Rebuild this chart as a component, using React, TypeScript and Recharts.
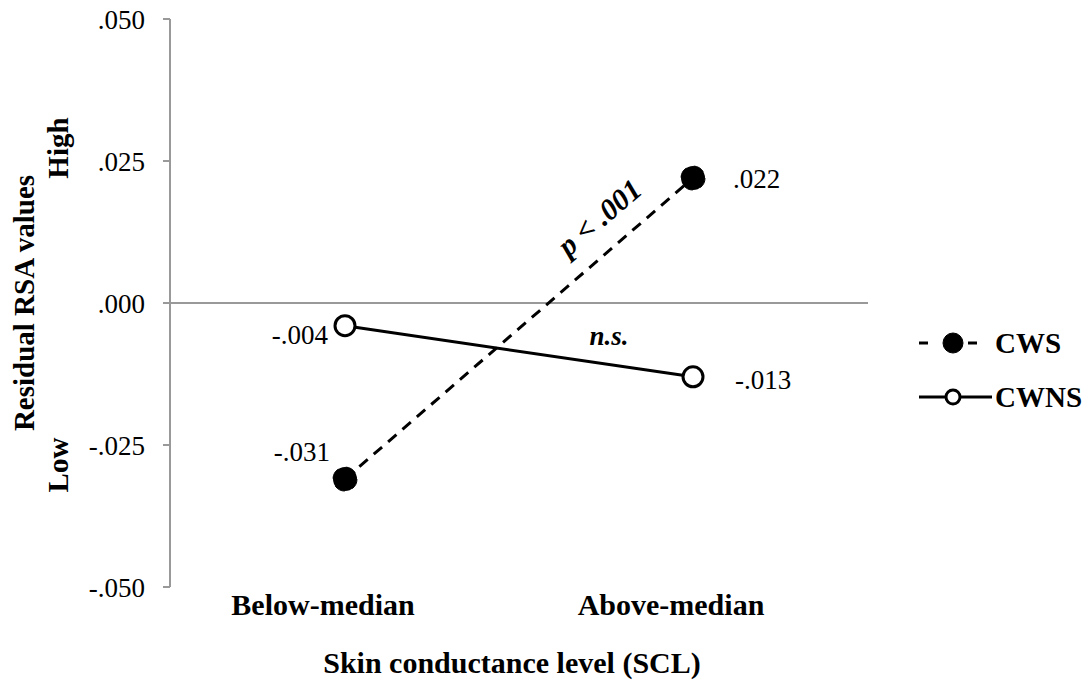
import { LineChart, Line, XAxis, YAxis, ReferenceLine, LabelList } from "recharts";

const categories = ["Below-median", "Above-median"];
const cws = [-0.031, 0.022];
const cwns = [-0.004, -0.013];
const yTicks = [0.05, 0.025, 0, -0.025, -0.05];
const yTickLabels = [".050", ".025", ".000", "-.025", "-.050"];
const seriesNames = ["CWS", "CWNS"];

const data = categories.map((c, i) => ({ name: c, cws: cws[i], cwns: cwns[i] }));

const FONT = "'Liberation Serif', 'Times New Roman', serif";

const fmt = (v: number) => {
  const i = yTicks.findIndex((t) => Math.abs(t - v) < 1e-9);
  return i >= 0 ? yTickLabels[i] : String(v);
};

const valueText = (v: number) => (v < 0 ? "-" : "") + Math.abs(v).toFixed(3).replace(/^0/, "");

function XTick(props: any) {
  const { x, y, payload } = props;
  return (
    <text x={x - 22} y={y + 20} textAnchor="middle" fontFamily={FONT} fontSize={30} fontWeight="bold" fill="#000">
      {payload.value}
    </text>
  );
}

function YTitle(props: any) {
  const { viewBox } = props;
  const top = viewBox.y;
  return (
    <g fontFamily={FONT} fontWeight="bold" fontSize={29} fill="#000">
      <text transform={`translate(34, ${top + 284}) rotate(-90)`} textAnchor="middle">
        Residual RSA values
      </text>
      <text transform={`translate(68, ${top + 129}) rotate(-90)`} textAnchor="middle">
        High
      </text>
      <text transform={`translate(68, ${top + 446}) rotate(-90)`} textAnchor="middle">
        Low
      </text>
    </g>
  );
}

function CwsLabel(props: any) {
  const { x, y, index, value } = props;
  if (index === 0) {
    return (
      <text x={x - 15} y={y - 18} textAnchor="end" fontFamily={FONT} fontSize={27} fill="#000">
        {valueText(value)}
      </text>
    );
  }
  return (
    <g>
      <text x={x + 40} y={y + 10} fontFamily={FONT} fontSize={27} fill="#000">
        {valueText(value)}
      </text>
      <text
        transform={`translate(${x - 87}, ${y + 47}) rotate(-40.6)`}
        textAnchor="middle"
        fontFamily={FONT}
        fontSize={30}
        fontWeight="bold"
        fontStyle="italic"
        fill="#000"
      >
        p &lt; .001
      </text>
    </g>
  );
}

function CwnsLabel(props: any) {
  const { x, y, index, value } = props;
  if (index === 0) {
    return (
      <text x={x - 17} y={y + 18} textAnchor="end" fontFamily={FONT} fontSize={27} fill="#000">
        {valueText(value)}
      </text>
    );
  }
  return (
    <g>
      <text x={x + 42} y={y + 12} fontFamily={FONT} fontSize={27} fill="#000">
        {valueText(value)}
      </text>
      <text x={x - 84} y={y - 32} textAnchor="middle" fontFamily={FONT} fontSize={27} fontWeight="bold" fontStyle="italic" fill="#000">
        n.s.
      </text>
    </g>
  );
}

function LegendBox() {
  return (
    <svg width={188} height={130} style={{ position: "absolute", left: 900, top: 300 }}>
      <g>
        <line x1={19} y1={43} x2={28} y2={43} stroke="#000" strokeWidth={3} />
        <line x1={68} y1={43} x2={77} y2={43} stroke="#000" strokeWidth={3} />
        <circle cx={53} cy={43} r={10} fill="#000" stroke="#000" strokeWidth={1} />
        <text x={95} y={53} fontFamily={FONT} fontSize={29} fontWeight="bold" fill="#000">
          {seriesNames[0]}
        </text>
      </g>
      <g>
        <line x1={19} y1={97} x2={92} y2={97} stroke="#000" strokeWidth={3} />
        <circle cx={53} cy={97} r={7} fill="#fff" stroke="#000" strokeWidth={3} />
        <text x={95} y={107} fontFamily={FONT} fontSize={29} fontWeight="bold" fill="#000">
          {seriesNames[1]}
        </text>
      </g>
    </svg>
  );
}

export default function App() {
  return (
    <div style={{ position: "absolute", left: 0, top: 0, width: 1088, height: 687, background: "#fff" }}>
      <LineChart width={1088} height={687} data={data} margin={{ top: 19, right: 220, left: 0, bottom: 0 }}>
        <XAxis
          dataKey="name"
          height={100}
          axisLine={false}
          tickLine={false}
          tick={<XTick />}
          padding={{ left: 175, right: 175 }}
          label={{
            value: "Skin conductance level (SCL)",
            position: "insideBottom",
            offset: 14,
            dx: -7,
            fontFamily: FONT,
            fontSize: 30,
            fontWeight: "bold",
            fill: "#000",
          }}
        />
        <YAxis
          width={170}
          domain={[-0.05, 0.05]}
          ticks={yTicks}
          tickFormatter={fmt}
          interval={0}
          axisLine={{ stroke: "#999", strokeWidth: 2 }}
          tickLine={{ stroke: "#999", strokeWidth: 2 }}
          tickSize={7}
          tickMargin={18}
          tick={{ fontFamily: FONT, fontSize: 27, fill: "#000" }}
          label={<YTitle />}
        />
        <ReferenceLine y={0} stroke="#999" strokeWidth={2} />
        <Line
          dataKey="cws"
          name={seriesNames[0]}
          stroke="#000"
          strokeWidth={3}
          strokeDasharray="11 8"
          dot={{ r: 12, fill: "#000", stroke: "#000", strokeWidth: 1 }}
          isAnimationActive={false}
        >
          <LabelList dataKey="cws" content={<CwsLabel />} />
        </Line>
        <Line
          dataKey="cwns"
          name={seriesNames[1]}
          stroke="#000"
          strokeWidth={3}
          dot={{ r: 10, fill: "#fff", stroke: "#000", strokeWidth: 3 }}
          isAnimationActive={false}
        >
          <LabelList dataKey="cwns" content={<CwnsLabel />} />
        </Line>
      </LineChart>
      <LegendBox />
    </div>
  );
}
